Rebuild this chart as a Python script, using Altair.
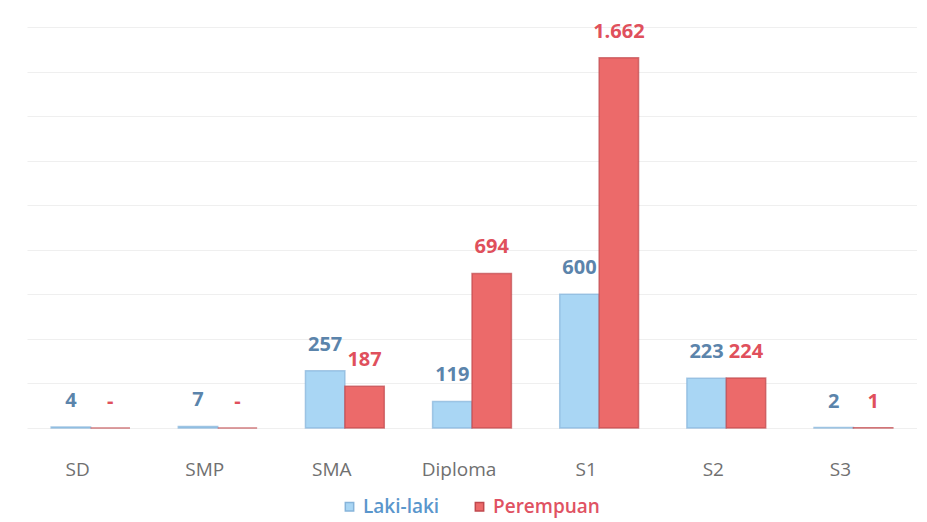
import altair as alt
import pandas as pd

categories = ["SD", "SMP", "SMA", "Diploma", "S1", "S2", "S3"]
series = ["Laki-laki", "Perempuan"]
laki = [4, 7, 257, 119, 600, 223, 2]
perempuan = [0, 0, 187, 694, 1662, 224, 1]
laki_text = ["4", "7", "257", "119", "600", "223", "2"]
perempuan_text = ["-", "-", "187", "694", "1.662", "224", "1"]

rows = []
for c, v, t in zip(categories, laki, laki_text):
    rows.append({"cat": c, "series": series[0], "value": v, "label": t})
for c, v, t in zip(categories, perempuan, perempuan_text):
    rows.append({"cat": c, "series": series[1], "value": v, "label": t})
df = pd.DataFrame(rows)

FONT = "Open Sans"

x = alt.X("cat:N", sort=categories, title=None,
          scale=alt.Scale(paddingInner=0.38, paddingOuter=0.19),
          axis=alt.Axis(labelAngle=0, labelFontSize=19, labelColor="#707070",
                        labelFont=FONT, ticks=False, domain=False, labelPadding=32,
                        labelOffset=-13))
xo = alt.XOffset("series:N", sort=series, scale=alt.Scale(paddingInner=0))
y = alt.Y("value:Q", title=None,
          scale=alt.Scale(domain=[0, 1800], nice=False),
          axis=alt.Axis(values=list(range(0, 1801, 200)), labels=False, ticks=False,
                        domain=False, gridColor="#efefef", gridWidth=1))

bars = alt.Chart(df).mark_bar(strokeWidth=1.5, strokeOpacity=0.7).encode(
    x=x, xOffset=xo, y=y,
    color=alt.Color("series:N", sort=series,
                    scale=alt.Scale(domain=series, range=["#a9d6f4", "#ec6a6a"]),
                    legend=alt.Legend(orient="none", legendX=313, legendY=470,
                                      direction="horizontal", title=None,
                                      symbolType="square", symbolSize=70,
                                      labelFontSize=19, labelFont=FONT, labelFontWeight=600,
                                      labelLimit=300,
                                      labelColor=alt.ExprRef("datum.label == 'Laki-laki' ? '#5a96cc' : '#e05263'"),
                                      columnPadding=30)),
    stroke=alt.Stroke("series:N", sort=series,
                      scale=alt.Scale(domain=series, range=["#86b4da", "#c0484d"]),
                      legend=None),
)

labels = alt.Chart(df).mark_text(baseline="bottom", dy=-16, fontSize=20, fontWeight="bold",
                                 font=FONT).encode(
    x=x, xOffset=xo, y=y,
    text="label:N",
    color=alt.Color("series:N", sort=series,
                    scale=alt.Scale(domain=series, range=["#5b84ab", "#e0505c"]),
                    legend=None),
)

chart = alt.layer(bars, labels).resolve_scale(color="independent", stroke="independent").properties(
    width=890, height=401,
    padding={"left": 19, "top": 13, "right": 0, "bottom": 12},
).configure_view(stroke=None)

chart.save("out.html", embed_options={"renderer": "svg", "actions": False})
